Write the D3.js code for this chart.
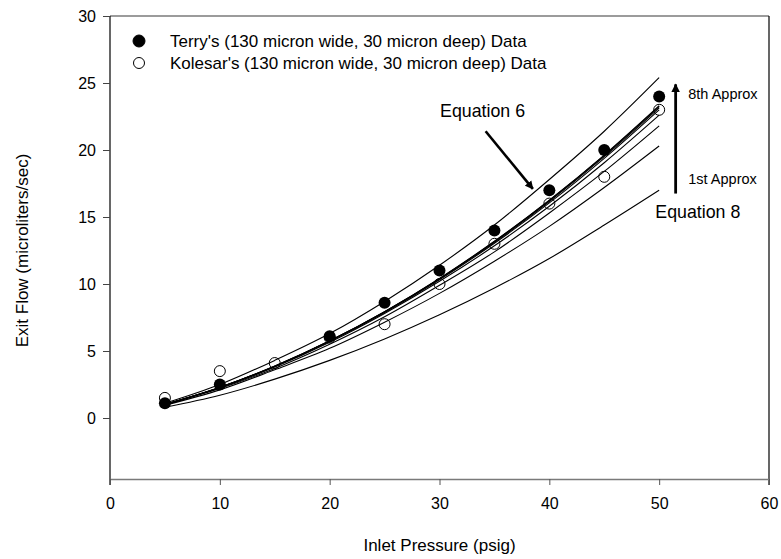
<!DOCTYPE html>
<html>
<head>
<meta charset="utf-8">
<script src="https://cdn.jsdelivr.net/npm/d3@7"></script>
<style>
  body { margin: 0; background: #fff; }
  svg text { font-family: 'Liberation Sans', Arial, sans-serif; fill: #000; }
</style>
</head>
<body>
<div id="chart"></div>
<script>
// data
const pressure = [5, 10, 15, 20, 25, 30, 35, 40, 45, 50]
const terryP = [5, 10, 20, 25, 30, 35, 40, 45, 50]
const terryFlow = [1.1, 2.5, 6.1, 8.6, 11.0, 14.0, 17.0, 20.0, 24.0]
const kolesarP = [5, 10, 15, 20, 25, 30, 35, 40, 45, 50]
const kolesarFlow = [1.5, 3.5, 4.1, 6.0, 7.0, 10.0, 13.0, 16.0, 18.0, 23.0]
const equation6 = [1.1, 2.5, 4.3, 6.3, 8.7, 11.4, 14.4, 17.8, 21.4, 25.4]
const approx1 = [0.8, 1.7, 2.9, 4.3, 5.9, 7.7, 9.7, 11.9, 14.4, 17.0]
const approx2 = [0.95, 2.1, 3.6, 5.2, 7.15, 9.3, 11.7, 14.3, 17.2, 20.3]
const approx3 = [1.0, 2.2, 3.7, 5.5, 7.55, 9.9, 12.4, 15.3, 18.4, 21.8]
const approx4 = [1.0, 2.25, 3.8, 5.65, 7.8, 10.2, 12.85, 15.8, 19.05, 22.6]
const approx5 = [1.0, 2.27, 3.85, 5.72, 7.88, 10.32, 13.04, 16.05, 19.38, 23.0]
const approx6 = [1.0, 2.28, 3.86, 5.74, 7.91, 10.37, 13.12, 16.16, 19.5, 23.15]
const approx7 = [1.0, 2.29, 3.87, 5.75, 7.93, 10.4, 13.17, 16.23, 19.59, 23.25]
const approx8 = [1.0, 2.29, 3.88, 5.76, 7.94, 10.42, 13.19, 16.26, 19.62, 23.3]
const xTicks = [0, 10, 20, 30, 40, 50, 60]
const yTicks = [0, 5, 10, 15, 20, 25, 30]
const legendLabels = ["Terry's (130 micron wide, 30 micron deep) Data", "Kolesar's (130 micron wide, 30 micron deep) Data"]

const w = 781, h = 559
const svg = d3.select('#chart').append('svg').attr('width', w).attr('height', h)

svg.append('defs').append('marker')
  .attr('id', 'head').attr('viewBox', '0 0 10 10')
  .attr('refX', 9).attr('refY', 5)
  .attr('markerWidth', 3.2).attr('markerHeight', 3.6)
  .attr('orient', 'auto')
  .append('path').attr('d', 'M0,0L10,5L0,10Z').attr('fill', '#000')

let xScale = d3.scaleLinear().domain([0, 60]).range([110, 769])
let yScale = d3.scaleLinear().domain([-5, 30]).range([485, 16])

// frame
svg.append('line').attr('x1', xScale(0)).attr('x2', xScale(60))
  .attr('y1', yScale(30)).attr('y2', yScale(30))
  .attr('stroke', '#7a7a7a').attr('stroke-width', 1.5)
svg.append('line').attr('x1', xScale(60)).attr('x2', xScale(60))
  .attr('y1', yScale(30)).attr('y2', yScale(-5))
  .attr('stroke', '#000').attr('stroke-width', 1.2)
svg.append('line').attr('x1', xScale(0)).attr('x2', xScale(0))
  .attr('y1', yScale(30)).attr('y2', yScale(-5))
  .attr('stroke', '#000').attr('stroke-width', 1.2)

// axes
let yAxis = svg.append('g').attr('transform', `translate(${xScale(0)},0)`)
  .call(d3.axisLeft(yScale).tickValues(yTicks).tickSize(7).tickPadding(7))
yAxis.select('.domain').remove()
yAxis.selectAll('line').attr('stroke', '#444')
yAxis.selectAll('text').attr('font-size', 16)

let xAxisY = yScale(-5) - 6
let xAxis = svg.append('g').attr('transform', `translate(0,${xAxisY})`)
  .call(d3.axisBottom(xScale).tickValues(xTicks).tickSizeInner(6).tickSizeOuter(0).tickPadding(13))
xAxis.select('.domain').attr('stroke', '#7a7a7a').attr('stroke-width', 1.5)
xAxis.selectAll('line').attr('stroke', '#555')
xAxis.selectAll('text').attr('font-size', 16)

svg.append('text').text('Inlet Pressure (psig)')
  .attr('x', (xScale(0) + xScale(60)) / 2).attr('y', 551)
  .attr('text-anchor', 'middle').attr('font-size', 17)
svg.append('text').text('Exit Flow (microliters/sec)')
  .attr('transform', `translate(28,${(yScale(-5) + yScale(30)) / 2}) rotate(-90)`)
  .attr('text-anchor', 'middle').attr('font-size', 17)

// curves
let line = d3.line().x((d, i) => xScale(pressure[i])).y(d => yScale(d)).curve(d3.curveMonotoneX)
const curves = [equation6, approx1, approx2, approx3, approx4, approx5, approx6, approx7, approx8]
svg.append('g').selectAll('path').data(curves).enter().append('path')
  .attr('d', d => line(d)).attr('fill', 'none')
  .attr('stroke', '#000').attr('stroke-width', 1.1)

// points
svg.append('g').selectAll('circle').data(kolesarFlow).enter().append('circle')
  .attr('cx', (d, i) => xScale(kolesarP[i])).attr('cy', d => yScale(d)).attr('r', 5.5)
  .attr('fill', 'none').attr('stroke', '#000').attr('stroke-width', 1)
svg.append('g').selectAll('circle').data(terryFlow).enter().append('circle')
  .attr('cx', (d, i) => xScale(terryP[i])).attr('cy', d => yScale(d)).attr('r', 6)
  .attr('fill', '#000')

// legend
let leg = svg.append('g')
leg.selectAll('circle').data(legendLabels).enter().append('circle')
  .attr('cx', 139).attr('cy', (d, i) => 41 + i * 22).attr('r', (d, i) => i === 0 ? 6 : 5.5)
  .attr('fill', (d, i) => i === 0 ? '#000' : '#fff').attr('stroke', '#000').attr('stroke-width', 1)
leg.selectAll('text').data(legendLabels).enter().append('text')
  .text(d => d).attr('x', 170).attr('y', (d, i) => 41 + i * 22).attr('dy', 6)
  .attr('font-size', 17)

// annotations
svg.append('text').text('Equation 6').attr('x', xScale(30.05)).attr('y', yScale(22.5)).attr('font-size', 17.8)
svg.append('line')
  .attr('x1', xScale(34.2)).attr('y1', yScale(21.4))
  .attr('x2', xScale(38.5)).attr('y2', yScale(17.1))
  .attr('stroke', '#000').attr('stroke-width', 2.6).attr('marker-end', 'url(#head)')
svg.append('text').text('Equation 8').attr('x', xScale(49.65)).attr('y', yScale(14.9)).attr('font-size', 17.8)
svg.append('line')
  .attr('x1', xScale(51.5)).attr('y1', yScale(16.75))
  .attr('x2', xScale(51.5)).attr('y2', yScale(24.9))
  .attr('stroke', '#000').attr('stroke-width', 2.8).attr('marker-end', 'url(#head)')
svg.append('text').text('8th Approx').attr('x', xScale(52.65)).attr('y', yScale(23.8)).attr('font-size', 14.5)
svg.append('text').text('1st Approx').attr('x', xScale(52.65)).attr('y', yScale(17.45)).attr('font-size', 14.5)
</script>
</body>
</html>
